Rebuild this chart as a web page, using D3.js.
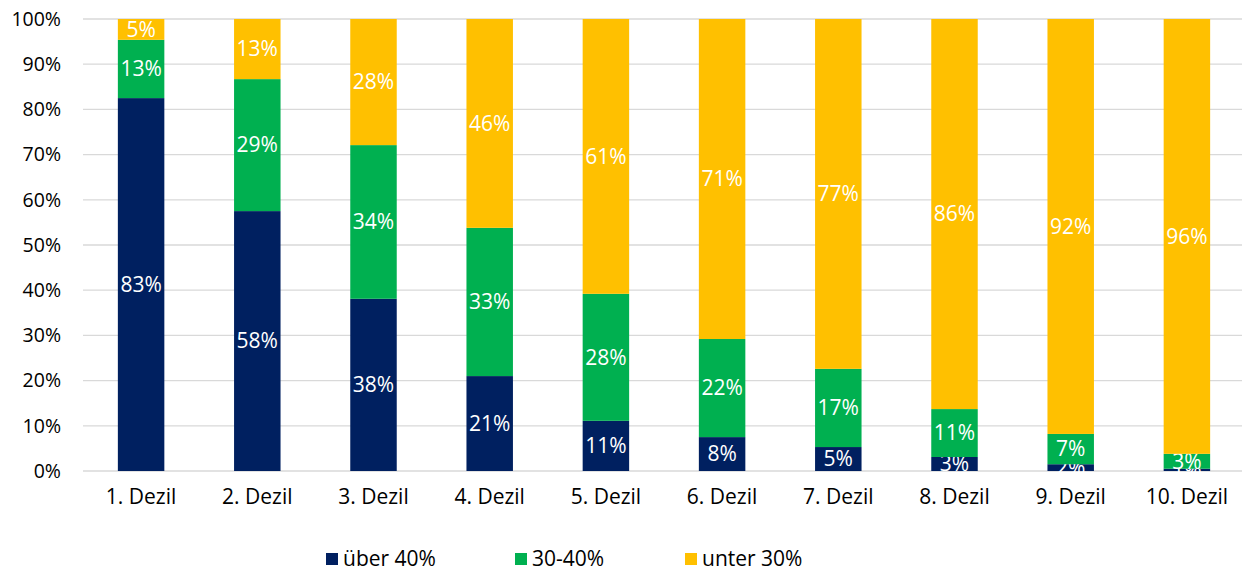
<!DOCTYPE html>
<html>
<head>
<meta charset="utf-8">
<script src="https://cdn.jsdelivr.net/npm/d3@7"></script>
<style>
body{margin:0;background:#fff;}
text{font-family:"Open Sans","Noto Sans",sans-serif;}
</style>
</head>
<body>
<div id="canvas"></div>
<script>
var categories = ['1. Dezil','2. Dezil','3. Dezil','4. Dezil','5. Dezil','6. Dezil','7. Dezil','8. Dezil','9. Dezil','10. Dezil'];
var seriesNames = ['über 40%','30-40%','unter 30%'];
var ueber40 = [82.5,57.5,38.1,21.0,11.1,7.5,5.3,3.1,1.5,0.5];
var mid3040 = [12.9,29.2,34.0,32.8,28.1,21.7,17.3,10.6,6.7,3.3];
var unter30 = [4.6,13.3,27.9,46.2,60.8,70.8,77.4,86.3,91.8,96.2];
var yTicks = [0,10,20,30,40,50,60,70,80,90,100];
var colors = ['#002060','#00b050','#ffc000'];

var W = 1242, H = 571;
var m = {t:19,l:83,r:0,b:100};
var svg = d3.select('#canvas').append('svg').attr('width',W).attr('height',H);

var x = d3.scaleBand().domain(categories).range([m.l,1245]).paddingInner(0.6).paddingOuter(0.3);
var y = d3.scaleLinear().domain([0,100]).range([471,19]);

//gridlines
svg.append('g').selectAll('line').data(yTicks).enter().append('line')
    .attr('x1',m.l).attr('x2',W)
    .attr('y1',function(d){return y(d)}).attr('y2',function(d){return y(d)})
    .attr('stroke','#d9d9d9').attr('stroke-width',1.3);

var yAxis = d3.axisLeft(y).tickValues(yTicks).tickSize(0).tickPadding(0)
    .tickFormat(function(d){return d+'%'});
var gy = svg.append('g').attr('transform','translate(61,0)').call(yAxis);
gy.select('.domain').remove();
gy.selectAll('text').attr('font-size',19.5).attr('fill','#000');

var xAxis = d3.axisBottom(x).tickSize(0).tickPadding(0);
var gx = svg.append('g').attr('transform','translate(0,489)').call(xAxis);
gx.select('.domain').remove();
gx.selectAll('text').attr('font-size',21).attr('fill','#000');

var rows = categories.map(function(c,i){
    return {cat:c,a:ueber40[i],b:mid3040[i],c:unter30[i]};
});
var stack = d3.stack().keys(['a','b','c'])(rows);

var layers = svg.selectAll('.layer').data(stack).enter().append('g')
    .attr('fill',function(d,i){return colors[i]});
layers.selectAll('rect').data(function(d){return d}).enter().append('rect')
    .attr('x',function(d){return x(d.data.cat)})
    .attr('width',x.bandwidth())
    .attr('y',function(d){return y(d[1])})
    .attr('height',function(d){return y(d[0])-y(d[1])});

layers.selectAll('text').data(function(d){return d}).enter().append('text')
    .attr('x',function(d){return x(d.data.cat)+x.bandwidth()/2})
    .attr('y',function(d){return y((d[0]+d[1])/2)})
    .attr('dy','0.35em')
    .attr('text-anchor','middle')
    .attr('font-size',21)
    .attr('fill','#fff')
    .text(function(d){return Math.round(d[1]-d[0])+'%'});

//legend
var legX = [326,515,685];
var leg = svg.append('g').selectAll('g').data(seriesNames).enter().append('g')
    .attr('transform',function(d,i){return 'translate('+legX[i]+',553)'});
leg.append('rect').attr('width',12).attr('height',12).attr('fill',function(d,i){return colors[i]});
leg.append('text').attr('x',17).attr('y',6).attr('dy','0.35em')
    .attr('font-size',21).attr('fill','#000').text(function(d){return d});
</script>
</body>
</html>
